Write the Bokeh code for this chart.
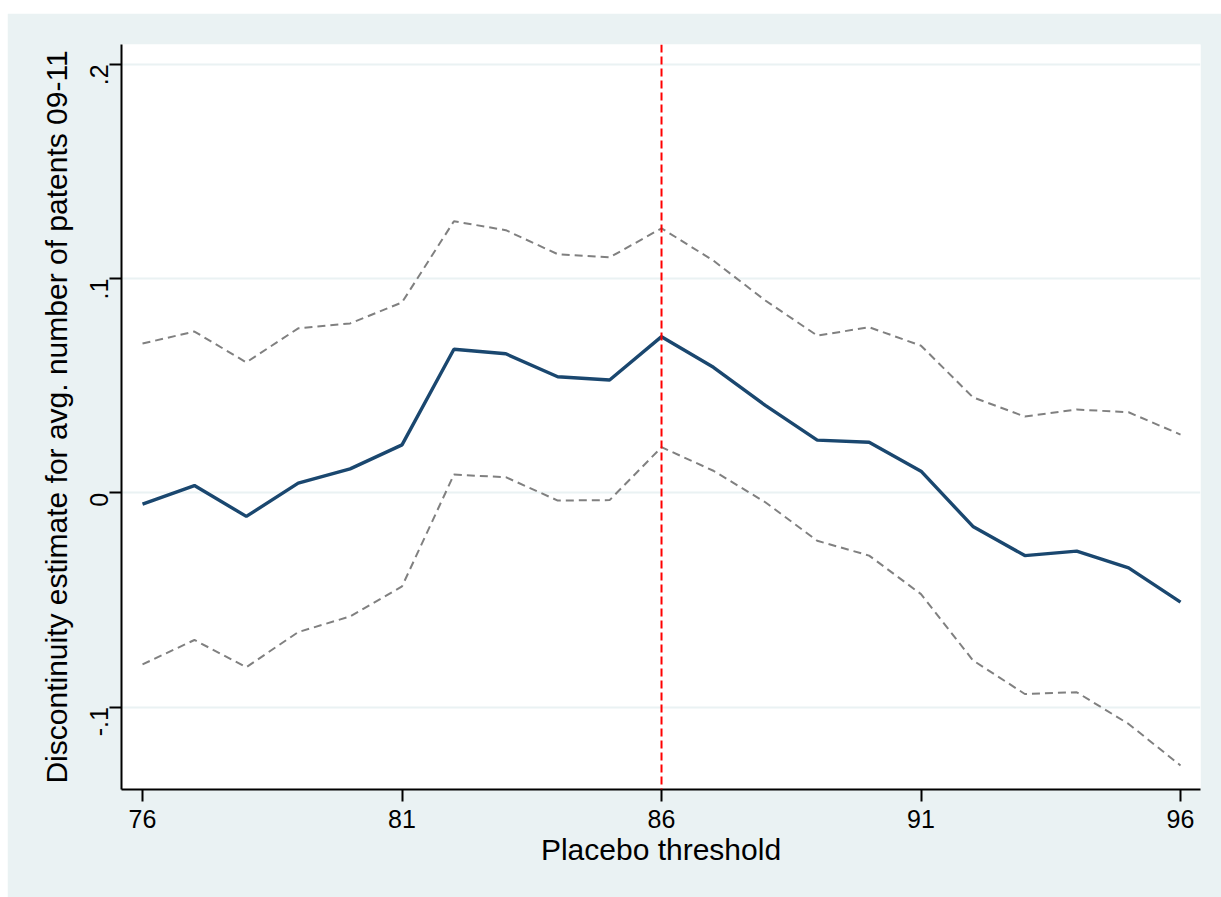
import math
from bokeh.plotting import figure
from bokeh.models import Range1d, FixedTicker, Span, Spacer
from bokeh.layouts import column, row
from bokeh.embed import file_html
from bokeh.resources import INLINE

# Data
thresholds = [76, 77, 78, 79, 80, 81, 82, 83, 84, 85, 86,
              87, 88, 89, 90, 91, 92, 93, 94, 95, 96]
estimate = [-0.0053, 0.0034, -0.0110, 0.0045, 0.0112, 0.0224, 0.0670, 0.0649,
            0.0542, 0.0527, 0.0729, 0.0586, 0.0408, 0.0246, 0.0236, 0.0101,
            -0.0157, -0.0293, -0.0272, -0.0350, -0.0510]
upper_ci = [0.0697, 0.0753, 0.0609, 0.0768, 0.0791, 0.0889, 0.1268, 0.1226,
            0.1114, 0.1099, 0.1235, 0.1084, 0.0898, 0.0734, 0.0773, 0.0687,
            0.0446, 0.0356, 0.0389, 0.0376, 0.0272]
lower_ci = [-0.0801, -0.0687, -0.0814, -0.0650, -0.0577, -0.0437, 0.0085, 0.0073,
            -0.0036, -0.0034, 0.0213, 0.0103, -0.0044, -0.0224, -0.0293, -0.0473,
            -0.0782, -0.0939, -0.0931, -0.1079, -0.1273]
x_ticks = [76, 81, 86, 91, 96]
y_ticks = [-0.1, 0.0, 0.1, 0.2]
y_tick_labels = ["-.1", "0", ".1", ".2"]
cutoff = 86

BG = "#EAF2F3"
FONT = "Liberation Sans"

p = figure(width=1214, height=884, output_backend="svg", toolbar_location=None,
           x_range=Range1d(75.595, 96.385), y_range=Range1d(-0.1385, 0.2093),
           min_border_left=114, min_border_right=21, min_border_top=31,
           min_border_bottom=108)
p.background_fill_color = "white"
p.border_fill_color = BG
p.outline_line_color = None

# vertical cutoff line
p.add_layout(Span(location=cutoff, dimension="height", line_color="#FF0000",
                  line_width=2, line_dash="8 4"))

p.line(thresholds, upper_ci, line_color="#808080", line_width=2, line_dash="8 5")
p.line(thresholds, lower_ci, line_color="#808080", line_width=2, line_dash="8 5")
p.line(thresholds, estimate, line_color="#1A476F", line_width=3.4)

# grid
p.xgrid.grid_line_color = None
p.ygrid.ticker = FixedTicker(ticks=y_ticks)
p.ygrid.grid_line_color = BG
p.ygrid.grid_line_width = 2

# axes
for ax in (p.xaxis[0], p.yaxis[0]):
    ax.axis_line_color = "black"
    ax.axis_line_width = 2
    ax.major_tick_line_color = "black"
    ax.major_tick_line_width = 2
    ax.major_tick_out = 12
    ax.major_tick_in = 0
    ax.minor_tick_line_color = None
    ax.major_label_text_font = FONT
    ax.major_label_text_font_size = "25px"
    ax.major_label_text_color = "black"
    ax.axis_label_text_font = FONT
    ax.axis_label_text_font_size = "30px"
    ax.axis_label_text_font_style = "normal"
    ax.axis_label_text_color = "black"

p.xaxis.ticker = FixedTicker(ticks=x_ticks)
p.xaxis.major_label_standoff = 8
p.xaxis.axis_label = "Placebo threshold"
p.xaxis.axis_label_standoff = 2

p.yaxis.ticker = FixedTicker(ticks=y_ticks)
p.yaxis.major_label_overrides = {t: l for t, l in zip(y_ticks, y_tick_labels)}
p.yaxis.major_label_orientation = math.pi / 2
p.yaxis.major_label_standoff = 10
p.yaxis.axis_label = "Discontinuity estimate for avg. number of patents 09-11"
p.yaxis.axis_label_standoff = 6

layout = column(Spacer(height=13, width=1221), row(Spacer(width=7, height=884), p))

open("out.html", "w").write(file_html(layout, INLINE))
